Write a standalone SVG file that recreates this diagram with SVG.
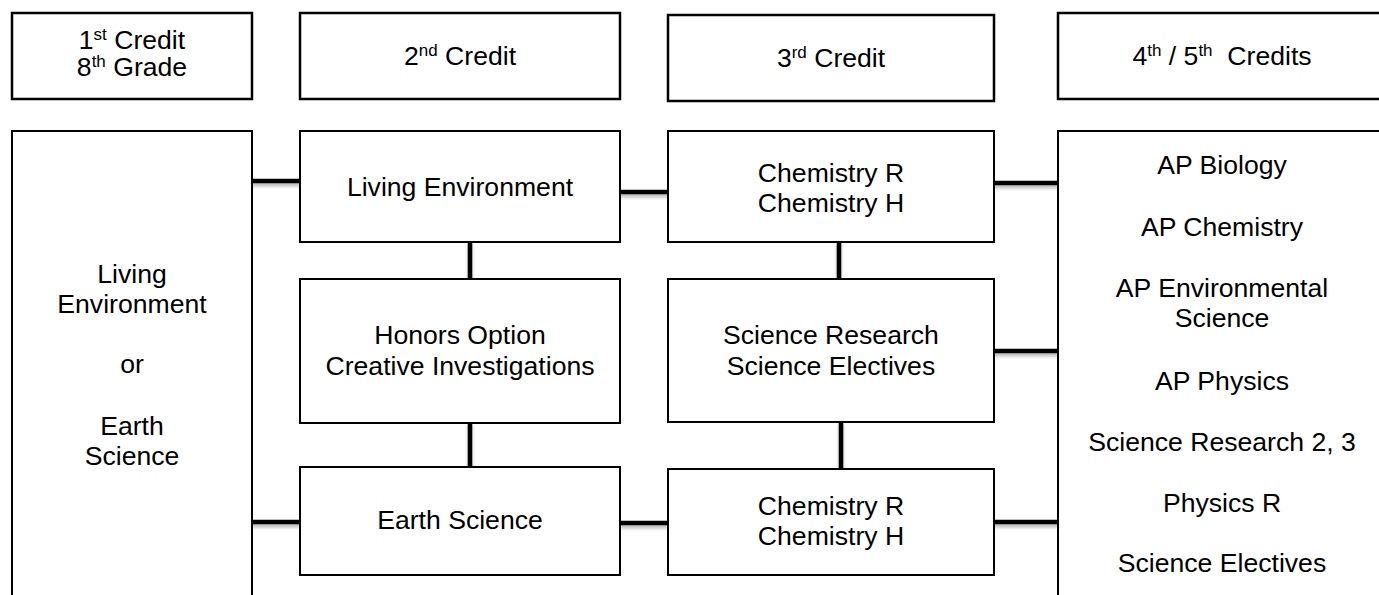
<svg xmlns="http://www.w3.org/2000/svg" width="1379" height="595" viewBox="0 0 1379 595">
<style>
.box{fill:#fff;stroke:#000;stroke-width:2}
.hdr{fill:#fff;stroke:#000;stroke-width:2.5}
text{font-family:"Liberation Sans",Arial,sans-serif;font-size:26.6px;fill:#000;text-anchor:middle}
.sup{font-size:17px}
.ln{stroke:#000;stroke-width:4.5;fill:none}
.sh{stroke:#000;stroke-opacity:0.25;stroke-width:5;fill:none}
.tk{fill:#8c8c8c}
</style>
<defs>
<filter id="blur" x="-20%" y="-50%" width="140%" height="200%"><feGaussianBlur stdDeviation="1.5"/></filter>
</defs>
<rect width="1379" height="595" fill="#fff"/>
<g id="h1"><rect class="hdr" x="12" y="13" width="240" height="86"/>
<text x="132" y="49">1<tspan class="sup" dy="-9">st</tspan><tspan dy="9"> Credit</tspan></text>
<text x="132" y="76">8<tspan class="sup" dy="-9">th</tspan><tspan dy="9"> Grade</tspan></text></g>
<g id="h2"><rect class="hdr" x="300" y="13" width="320" height="86"/>
<text x="460" y="65">2<tspan class="sup" dy="-9">nd</tspan><tspan dy="9"> Credit</tspan></text></g>
<g id="h3"><rect class="hdr" x="668" y="15" width="326" height="86"/>
<text x="831" y="67">3<tspan class="sup" dy="-9">rd</tspan><tspan dy="9"> Credit</tspan></text></g>
<g id="h4"><rect class="hdr" x="1058" y="13" width="330" height="86"/>
<text x="1222" y="65">4<tspan class="sup" dy="-9">th</tspan><tspan dy="9"> / 5</tspan><tspan class="sup" dy="-9">th</tspan><tspan dy="9" xml:space="preserve">  Credits</tspan></text></g>
<g id="connectors">
<g filter="url(#blur)">
<path class="sh" d="M252 184H300M620 195H668M994 186H1058M994 354H1058M252 525H300M620 526H668M994 525H1058M470 244V282M839 244V282M470 425V470M841 424V472"/>
</g>
<path class="ln" d="M252 181H300M620 192H668M994 183H1058M994 351H1058M252 522H300M620 523H668M994 522H1058M470 242V279M839 242V279M470 423V467M841 422V469"/>
<g class="tk">
<rect x="251" y="173" width="2" height="24"/><rect x="299" y="173" width="2" height="24"/>
<rect x="619" y="184" width="2" height="24"/><rect x="667" y="184" width="2" height="24"/>
<rect x="993" y="175" width="2" height="24"/><rect x="1057" y="175" width="2" height="24"/>
<rect x="993" y="343" width="2" height="24"/><rect x="1057" y="343" width="2" height="24"/>
<rect x="251" y="514" width="2" height="24"/><rect x="299" y="514" width="2" height="24"/>
<rect x="619" y="515" width="2" height="24"/><rect x="667" y="515" width="2" height="24"/>
<rect x="993" y="514" width="2" height="24"/><rect x="1057" y="514" width="2" height="24"/>
<rect x="457" y="241" width="25" height="2"/><rect x="457" y="278" width="25" height="2"/>
<rect x="826" y="241" width="25" height="2"/><rect x="826" y="278" width="25" height="2"/>
<rect x="457" y="422" width="25" height="2"/><rect x="457" y="466" width="25" height="2"/>
<rect x="828" y="421" width="25" height="2"/><rect x="828" y="468" width="25" height="2"/>
</g>
</g>
<g id="first"><rect class="box" x="12" y="131" width="240" height="480"/>
<text x="132" y="283">Living</text><text x="132" y="313">Environment</text>
<text x="132" y="373">or</text>
<text x="132" y="435">Earth</text><text x="132" y="465">Science</text></g>
<g id="le"><rect class="box" x="300" y="131" width="320" height="111"/>
<text x="460" y="196">Living Environment</text></g>
<g id="chem1"><rect class="box" x="668" y="131" width="326" height="111"/>
<text x="831" y="182">Chemistry R</text><text x="831" y="212">Chemistry H</text></g>
<g id="honors"><rect class="box" x="300" y="279" width="320" height="144"/>
<text x="460" y="344">Honors Option</text><text x="460" y="375">Creative Investigations</text></g>
<g id="sr"><rect class="box" x="668" y="279" width="326" height="143"/>
<text x="831" y="344">Science Research</text><text x="831" y="375">Science Electives</text></g>
<g id="es"><rect class="box" x="300" y="467" width="320" height="108"/>
<text x="460" y="529">Earth Science</text></g>
<g id="chem2"><rect class="box" x="668" y="469" width="326" height="106"/>
<text x="831" y="515">Chemistry R</text><text x="831" y="545">Chemistry H</text></g>
<g id="adv"><rect class="box" x="1058" y="131" width="330" height="480"/>
<text x="1222" y="174">AP Biology</text>
<text x="1222" y="236">AP Chemistry</text>
<text x="1222" y="297">AP Environmental</text><text x="1222" y="327">Science</text>
<text x="1222" y="390">AP Physics</text>
<text x="1222" y="451">Science Research 2, 3</text>
<text x="1222" y="512">Physics R</text>
<text x="1222" y="572">Science Electives</text></g>
</svg>
